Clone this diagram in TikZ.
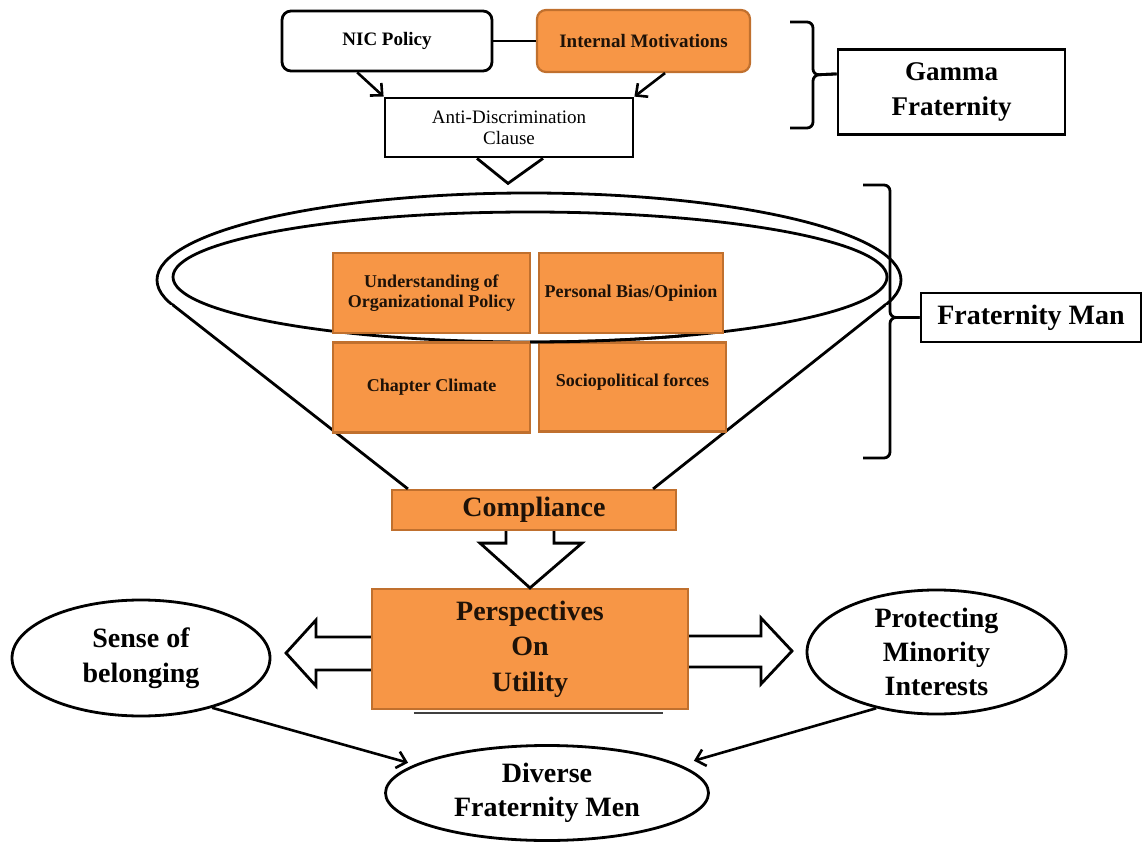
\documentclass[tikz,border=0pt]{standalone}
\usepackage{fontspec}
\setmainfont{Liberation Serif}
\usetikzlibrary{shapes.geometric,arrows.meta,calc}
\definecolor{orfill}{HTML}{F79646}
\definecolor{ordraw}{HTML}{C0702E}
\definecolor{ortext}{HTML}{1E1208}
\newcommand\myfs[2]{\rmfamily\fontsize{#1}{#2}\selectfont}
\begin{document}
\begin{tikzpicture}[x=1pt,y=-1pt,
  wbox/.style={draw=black, line width=2.8pt, fill=white, inner sep=0pt, align=center},
  obox/.style={draw=ordraw, line width=2.2pt, fill=orfill, inner sep=0pt, align=center, text=ortext},
  oval/.style={ellipse, draw=black, line width=2.8pt, fill=white, inner sep=0pt, align=center},
  conn/.style={line width=2.6pt, -{Straight Barb[length=9pt,width=17pt]}},
  thk/.style={line width=2.8pt},
  blockarrow/.style={draw=black, line width=2.8pt, fill=white, line join=miter},
  big/.style={font=\myfs{28}{35}\bfseries},
  mid/.style={font=\myfs{18}{20}\bfseries}
]
\useasboundingbox (0,0) rectangle (1143,842);

% ---------- top part ----------
\node[wbox, rounded corners=9pt, minimum width=210pt, minimum height=60pt, font=\myfs{19}{22}\bfseries] (nic) at (387,41) {NIC Policy};
\node[obox, rounded corners=9pt, minimum width=213pt, minimum height=62pt, font=\myfs{19}{22}\bfseries] (intm) at (643.5,41) {Internal Motivations};
\node[wbox, minimum width=248pt, minimum height=59pt, font=\myfs{19}{21}] (anti) at (509,127.5) {Anti-Discrimination\\Clause};

\draw[thk] (nic.east) -- (intm.west);
\draw[conn] ($(nic.south west)!0.36!(nic.south east)$) -- (anti.north west);
\draw[conn] ($(intm.south west)!0.6!(intm.south east)$) -- (anti.north east);
\draw[thk, line join=miter] ($(anti.south)+(-32,0)$) -- ($(anti.south)+(-1,25)$) -- ($(anti.south)+(34,0)$);

% Gamma Fraternity bracket
\node[wbox, minimum width=227pt, minimum height=85pt, font=\myfs{27}{35}\bfseries] (gamma) at (951.5,92) {Gamma\\Fraternity};
\coordinate (gtick) at ($(gamma.north west)!0.294!(gamma.south west)$);
\draw[thk, rounded corners=6pt] (790,22) -- (813,22) -- (813,75) -- (gtick);
\draw[thk, rounded corners=6pt] (790,128) -- (813,128) -- (813,75) -- (gtick);

% ---------- funnel ----------
\node[obox, minimum width=284pt, minimum height=40pt, font=\myfs{28}{30}\bfseries] (comp) at (534,510) {Compliance};

\begin{scope}
  \clip (0,0) rectangle (1143,305);
  \draw[thk] (529,280) ellipse [x radius=372, y radius=87];
\end{scope}
\draw[thk] (530,277) ellipse [x radius=357, y radius=65];
\draw[thk] ($(comp.north west)+(17,0)$) -- (172.5,304.7);
\draw[thk] ($(comp.north east)+(-24,0)$) -- (885.5,304.7);

\node[obox, mid, minimum width=197pt, minimum height=80pt] (und) at (431.5,293) {Understanding of\\Organizational Policy};
\node[obox, mid, minimum width=184pt, minimum height=80pt] (pers) at (631,293) {Personal Bias/Opinion};
\node[obox, mid, minimum width=197pt, minimum height=90pt] (chap) at (431.5,387.5) {Chapter Climate};
\node[obox, mid, minimum width=187pt, minimum height=89pt, text depth=14pt] (soc) at (632.5,387) {Sociopolitical forces};
\draw[thk] (530,277) ++(0,65) arc[start angle=90, end angle=64, x radius=357, y radius=65];

% Fraternity Man bracket
\node[wbox, minimum width=220pt, minimum height=49pt, font=\myfs{28}{30}\bfseries] (fman) at (1031,317.5) {Fraternity Man};
\draw[thk, rounded corners=6pt] (863,185) -- (890,185) -- (890,317.5) -- (fman.west);
\draw[thk, rounded corners=6pt] (863,458) -- (890,458) -- (890,317.5) -- (fman.west);

% ---------- bottom part ----------
\node[obox, minimum width=316pt, minimum height=120pt, font=\myfs{28}{35.5}\bfseries] (persp) at (530,649) {Perspectives\\On\\Utility};
\draw[line width=1.6pt, black!75] ($(persp.south west)+(43,3)$) -- ($(persp.south east)+(-26,3)$);

\draw[blockarrow] ($(comp.south)+(-28,0)$) -- ++(0,12) -- ++(-26,0) -- (persp.north) -- ($(comp.south)+(48,12)$) -- ++(-28,0) -- ++(0,-12);
\draw[blockarrow] ($(persp.west)+(0,-12)$) -- (316,637) -- (316,620) -- (286,653) -- (316,686) -- (316,670) -- ($(persp.west)+(0,21)$);
\draw[blockarrow] ($(persp.east)+(0,-13)$) -- (761,636) -- (761,618) -- (792,651) -- (761,684) -- (761,667) -- ($(persp.east)+(0,18)$);

\node[oval, big, minimum width=258pt, minimum height=116pt] (sense) at (141,658) {Sense of\\belonging};
\node[oval, minimum width=259pt, minimum height=118pt, font=\myfs{28}{34}\bfseries] (prot) at (936.5,652) {Protecting\\Minority\\Interests};
\node[oval, minimum width=323pt, minimum height=95pt, font=\myfs{28}{34}\bfseries] (div) at (547,793) {Diverse\\Fraternity Men};

\draw[conn] (sense.-35) -- ($(div.168)+(-6,-2)$);
\draw[conn] (prot.-137) -- ($(div.12)+(14,-4)$);
\end{tikzpicture}
\end{document}
